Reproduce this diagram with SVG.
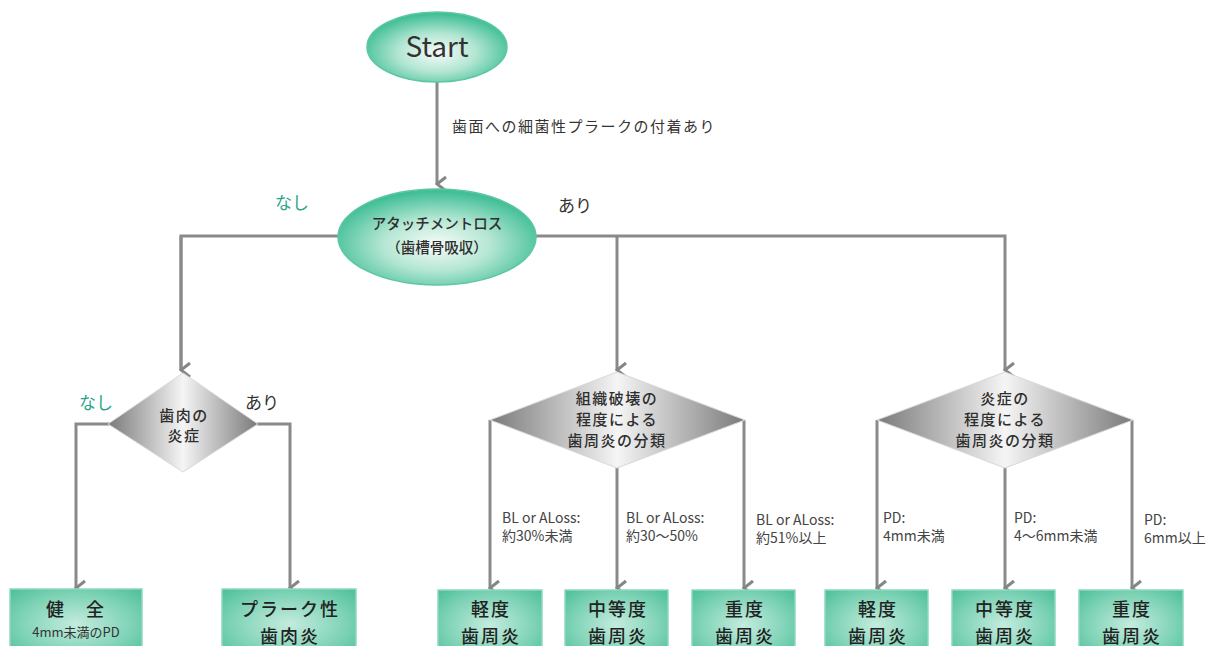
<svg xmlns="http://www.w3.org/2000/svg" width="1219" height="646" viewBox="0 0 1219 646">
<defs>
<radialGradient id="gEll" cx="50%" cy="58%" r="55%">
<stop offset="0" stop-color="#f6fcf9"/>
<stop offset="0.5" stop-color="#b3e6d3"/>
<stop offset="1" stop-color="#42bf97"/>
</radialGradient>
<linearGradient id="gDia" x1="0" y1="0" x2="1" y2="0">
<stop offset="0" stop-color="#7a7a7a"/>
<stop offset="0.5" stop-color="#f5f5f5"/>
<stop offset="1" stop-color="#7a7a7a"/>
</linearGradient>
<radialGradient id="gBox" cx="50%" cy="50%" r="70%">
<stop offset="0" stop-color="#c4ecde"/>
<stop offset="0.6" stop-color="#7fd3b6"/>
<stop offset="1" stop-color="#4cbf9a"/>
</radialGradient>
<marker id="arr" markerUnits="userSpaceOnUse" markerWidth="18" markerHeight="13" refX="9" refY="11" orient="auto-start-reverse" viewBox="0 0 18 13">
<path d="M2,2 L9,11 L16,2" fill="none" stroke="#858585" stroke-width="3"/>
</marker>
<style>
.ln{fill:none;stroke:#8a8a8a;stroke-width:3}
.ell{fill:url(#gEll);stroke:#5cc7a2;stroke-width:1.5}
.dia{fill:url(#gDia);stroke:#d8d8d8;stroke-width:1}
.box{fill:url(#gBox);stroke:#8fd9bd;stroke-width:1.5}
text{font-family:"Noto Sans CJK JP","Noto Sans",sans-serif;fill:#333}
.lbl{font-size:15px;letter-spacing:1.5px}
.yes{font-size:17px;fill:#333}
.no{font-size:17px;fill:#2aa58a}
.dt{font-size:15px;text-anchor:middle;font-weight:500;letter-spacing:1.5px;fill:#2e2e2e}
.et{font-size:14.5px;text-anchor:middle;font-weight:500;fill:#2e2e2e}
.bt{font-size:18px;font-weight:500;text-anchor:middle;fill:#222;letter-spacing:2px}
.sm{font-size:14px;fill:#444}
</style>
</defs>

<g id="connectors">
<path class="ln" d="M437,82 V184" marker-end="url(#arr)"/>
<path class="ln" d="M181,370 V236 H1005 V370" marker-end="url(#arr)"/>
<path class="ln" d="M617,236 V370" marker-end="url(#arr)"/>
<path class="ln" d="M181,236 V370" marker-end="url(#arr)"/>
<path class="ln" d="M110,424 H76 V588" marker-end="url(#arr)"/>
<path class="ln" d="M257,424 H290 V588" marker-end="url(#arr)"/>
<path class="ln" d="M490,420 V588" marker-end="url(#arr)"/>
<path class="ln" d="M617,468 V588" marker-end="url(#arr)"/>
<path class="ln" d="M744,420 V588" marker-end="url(#arr)"/>
<path class="ln" d="M877,420 V588" marker-end="url(#arr)"/>
<path class="ln" d="M1005,468 V588" marker-end="url(#arr)"/>
<path class="ln" d="M1132,420 V588" marker-end="url(#arr)"/>
<text class="lbl" x="452" y="132">歯面への細菌性プラークの付着あり</text>
<text class="no" x="275" y="209">なし</text>
<text class="yes" x="558" y="212">あり</text>
<text class="no" x="79" y="409">なし</text>
<text class="yes" x="245" y="409">あり</text>
<text class="sm" x="502" y="523">BL or ALoss:</text>
<text class="sm" x="502" y="541">約30%未満</text>
<text class="sm" x="626" y="523">BL or ALoss:</text>
<text class="sm" x="626" y="541">約30〜50%</text>
<text class="sm" x="756" y="525">BL or ALoss:</text>
<text class="sm" x="756" y="543">約51%以上</text>
<text class="sm" x="883" y="523">PD:</text>
<text class="sm" x="883" y="541">4mm未満</text>
<text class="sm" x="1014" y="523">PD:</text>
<text class="sm" x="1014" y="541">4〜6mm未満</text>
<text class="sm" x="1144" y="525">PD:</text>
<text class="sm" x="1144" y="543">6mm以上</text>
</g>

<g id="start">
<ellipse class="ell" cx="437" cy="47" rx="70" ry="35"/>
<text x="437" y="57" text-anchor="middle" style="font-size:28px">Start</text>
</g>

<g id="attachment">
<ellipse class="ell" cx="437" cy="237" rx="99" ry="48"/>
<text class="et" x="437" y="229">アタッチメントロス</text>
<text class="et" x="437" y="253">（歯槽骨吸収）</text>
</g>

<g id="gingiva">
<polygon class="dia" points="183,373 258,424 183,472 108,424"/>
<text class="dt" x="184" y="421">歯肉の</text>
<text class="dt" x="184" y="441">炎症</text>
</g>

<g id="destruction">
<polygon class="dia" points="617,372 745,420 617,468 490,420"/>
<text class="dt" x="617" y="404">組織破壊の</text>
<text class="dt" x="617" y="425">程度による</text>
<text class="dt" x="617" y="446">歯周炎の分類</text>
</g>

<g id="inflammation">
<polygon class="dia" points="1005,372 1133,420 1005,468 877,420"/>
<text class="dt" x="1005" y="404">炎症の</text>
<text class="dt" x="1005" y="425">程度による</text>
<text class="dt" x="1005" y="446">歯周炎の分類</text>
</g>

<g id="healthy">
<rect class="box" x="10" y="589" width="132" height="70"/>
<text class="bt" x="76" y="616">健　全</text>
<text x="76" y="637" text-anchor="middle" style="font-size:13px">4mm未満のPD</text>
</g>

<g id="gingivitis">
<rect class="box" x="222" y="589" width="134" height="70"/>
<text class="bt" x="290" y="616">プラーク性</text>
<text class="bt" x="290" y="643">歯肉炎</text>
</g>

<g id="mild1">
<rect class="box" x="438" y="590" width="104" height="70"/>
<text class="bt" x="491" y="616">軽度</text>
<text class="bt" x="491" y="643">歯周炎</text>
</g>
<g id="moderate1">
<rect class="box" x="565" y="590" width="103" height="70"/>
<text class="bt" x="618" y="616">中等度</text>
<text class="bt" x="618" y="643">歯周炎</text>
</g>
<g id="severe1">
<rect class="box" x="692" y="590" width="103" height="70"/>
<text class="bt" x="745" y="616">重度</text>
<text class="bt" x="745" y="643">歯周炎</text>
</g>
<g id="mild2">
<rect class="box" x="825" y="590" width="103" height="70"/>
<text class="bt" x="878" y="616">軽度</text>
<text class="bt" x="878" y="643">歯周炎</text>
</g>
<g id="moderate2">
<rect class="box" x="952" y="590" width="103" height="70"/>
<text class="bt" x="1005" y="616">中等度</text>
<text class="bt" x="1005" y="643">歯周炎</text>
</g>
<g id="severe2">
<rect class="box" x="1079" y="590" width="104" height="70"/>
<text class="bt" x="1132" y="616">重度</text>
<text class="bt" x="1132" y="643">歯周炎</text>
</g>
</svg>
